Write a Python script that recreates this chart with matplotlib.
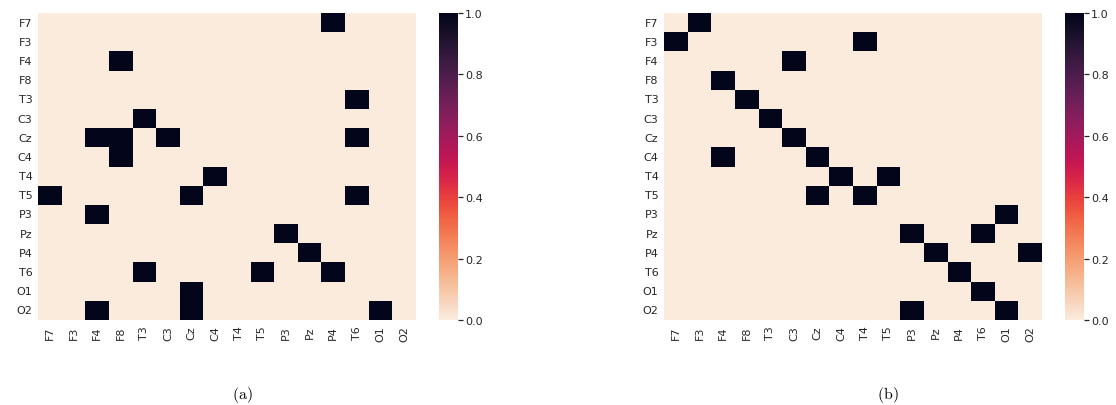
import numpy as np
import matplotlib
matplotlib.use("Agg")
from matplotlib import pyplot as plt
import seaborn as sns

channels = ["F7", "F3", "F4", "F8", "T3", "C3", "Cz", "C4",
            "T4", "T5", "P3", "Pz", "P4", "T6", "O1", "O2"]

# active (row, column) entries of each connectivity matrix
links_a = [("F7", "P4"), ("F4", "F8"), ("T3", "T6"), ("C3", "T3"),
           ("Cz", "F4"), ("Cz", "F8"), ("Cz", "C3"), ("Cz", "T6"),
           ("C4", "F8"), ("T4", "C4"), ("T5", "F7"), ("T5", "Cz"),
           ("T5", "T6"), ("P3", "F4"), ("Pz", "P3"), ("P4", "Pz"),
           ("T6", "T3"), ("T6", "T5"), ("T6", "P4"), ("O1", "Cz"),
           ("O2", "F4"), ("O2", "Cz"), ("O2", "O1")]

links_b = [("F7", "F3"), ("F3", "F7"), ("F3", "T4"), ("F4", "C3"),
           ("F8", "F4"), ("T3", "F8"), ("C3", "T3"), ("Cz", "C3"),
           ("C4", "F4"), ("C4", "Cz"), ("T4", "C4"), ("T4", "T5"),
           ("T5", "Cz"), ("T5", "T4"), ("P3", "O1"), ("Pz", "P3"),
           ("Pz", "T6"), ("P4", "Pz"), ("P4", "O2"), ("T6", "P4"),
           ("O1", "T6"), ("O2", "P3"), ("O2", "O1")]


def to_matrix(links):
    m = np.zeros((len(channels), len(channels)))
    for r, c in links:
        m[channels.index(r), channels.index(c)] = 1.0
    return m


plt.rcParams["mathtext.fontset"] = "cm"
text_col = "#262626"

fig = plt.figure(figsize=(11.16, 4.06), dpi=100)
W, H = 1116, 406

panels = [(links_a, 38, 439, 242, "(a)"), (links_b, 664, 1065, 888, "(b)")]
for links, hx, cx, capx, cap in panels:
    ax = fig.add_axes([hx / W, (H - 321) / H, 378 / W, 307 / H])
    cax = fig.add_axes([cx / W, (H - 321) / H, 19 / W, 307 / H])
    sns.heatmap(to_matrix(links), ax=ax, cbar_ax=cax, cmap="rocket_r",
                vmin=0, vmax=1, xticklabels=channels, yticklabels=channels)
    ax.tick_params(axis="both", length=0, labelsize=8, labelcolor=text_col, pad=4)
    plt.setp(ax.get_xticklabels(), rotation=90)
    plt.setp(ax.get_yticklabels(), rotation=0)
    cax.tick_params(length=3.5, width=0.9, labelsize=8, labelcolor=text_col,
                    color=text_col, pad=1.5)
    cax.set_yticks([0, 0.2, 0.4, 0.6, 0.8, 1.0])
    cax.set_yticklabels(["0.0", "0.2", "0.4", "0.6", "0.8", "1.0"])
    for s in cax.spines.values():
        s.set_visible(False)
    fig.text(capx / W, 1 - 395 / H, r"$\mathrm{" + cap + "}$",
             ha="center", va="center", fontsize=11.5)

fig.savefig("out.png", dpi=100)
